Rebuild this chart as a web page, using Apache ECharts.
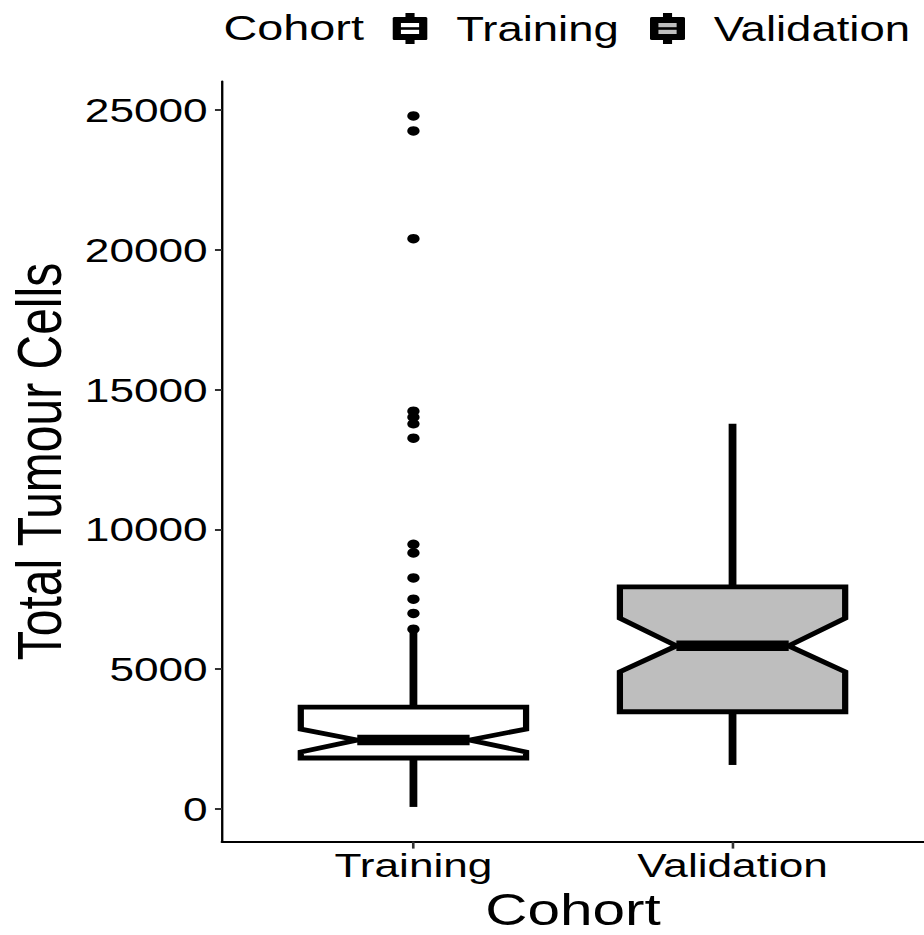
<!DOCTYPE html>
<html><head><meta charset="utf-8">
<script src="https://cdn.jsdelivr.net/npm/echarts@6/dist/echarts.min.js"></script>
<style>
html,body{margin:0;padding:0;background:#fff;overflow:hidden}
#wrap{width:924px;height:935px;overflow:hidden}
#chart{width:711px;height:935px;transform:scaleX(1.29958);transform-origin:0 0}
</style></head><body><div id="wrap"><div id="chart"></div></div>
<script>
// ---- data ----
const categories = ['Training', 'Validation'];
const statMin = [70, 1571];
const statQ1 = [1821, 3475];
const statNotchLow = [2036, 4904];
const statMedian = [2464, 5832];
const statNotchHigh = [2857, 6821];
const statQ3 = [3643, 7939];
const statMax = [6350, 13775];
const trainingOutliers = [24786, 24250, 20393, 14225, 14011, 13775, 13261, 9464, 9154, 8261, 7500, 6989, 6429];
const yTicks = [0, 5000, 10000, 15000, 20000, 25000];
const fills = ['#FFFFFF', '#BEBEBE'];
const legendTitle = 'Cohort';
const xTitle = 'Cohort';
const yTitle = 'Total Tumour Cells';

const FONT = '"Liberation Sans", Arial, Helvetica, sans-serif';

function iconFor(fill) {
  const svg = '<svg xmlns="http://www.w3.org/2000/svg" width="27" height="31" viewBox="0 0 27 31" preserveAspectRatio="none">' +
    '<rect x="10" y="0" width="7" height="5" fill="#000"/>' +
    '<rect x="10" y="26" width="7" height="5" fill="#000"/>' +
    '<rect x="0" y="4" width="27" height="23" rx="1.5" fill="#000"/>' +
    '<rect x="6.5" y="10" width="14" height="4.2" fill="' + fill + '"/>' +
    '<rect x="6.5" y="16.8" width="14" height="4.2" fill="' + fill + '"/>' +
    '</svg>';
  return 'image://data:image/svg+xml;charset=utf-8,' + encodeURIComponent(svg);
}

function renderBox(params, api) {
  const x = api.value(0);
  const mn = api.value(1), q1 = api.value(2), nl = api.value(3), md = api.value(4),
        nh = api.value(5), q3 = api.value(6), mx = api.value(7);
  const hw = 0.353, nw = 0.176;
  const P = (dx, v) => api.coord([x + dx, v]);
  const pts = [P(-hw, q3), P(hw, q3), P(hw, nh), P(nw, md), P(hw, nl), P(hw, q1),
               P(-hw, q1), P(-hw, nl), P(-nw, md), P(-hw, nh)];
  const c = P(0, md)[0];
  const fill = fills[params.seriesIndex];
  return {
    type: 'group',
    children: [
      { type: 'line', shape: { x1: c, y1: P(0, q3)[1], x2: c, y2: P(0, mx)[1] },
        style: { stroke: '#000', lineWidth: 6, lineCap: 'butt' } },
      { type: 'line', shape: { x1: c, y1: P(0, q1)[1], x2: c, y2: P(0, mn)[1] },
        style: { stroke: '#000', lineWidth: 6, lineCap: 'butt' } },
      { type: 'polygon', shape: { points: pts },
        style: { fill: fill, stroke: '#000', lineWidth: 4.8, lineJoin: 'miter' } },
      { type: 'line', shape: { x1: P(-nw, md)[0], y1: P(0, md)[1], x2: P(nw, md)[0], y2: P(0, md)[1] },
        style: { stroke: '#000', lineWidth: 10.5, lineCap: 'butt' } }
    ]
  };
}

const boxSeries = categories.map((name, i) => ({
  name: name,
  type: 'custom',
  renderItem: renderBox,
  encode: { x: 0, y: [1, 2, 3, 4, 5, 6, 7] },
  itemStyle: { color: fills[i] },
  data: [[i + 1, statMin[i], statQ1[i], statNotchLow[i], statMedian[i], statNotchHigh[i], statQ3[i], statMax[i]]],
  z: 2
}));

const chart = echarts.init(document.getElementById('chart'), null, { renderer: 'svg' });
chart.setOption({
  animation: false,
  backgroundColor: '#fff',
  textStyle: { fontFamily: FONT },
  title: {
    text: legendTitle, left: 172, top: 9, padding: 0,
    textStyle: { fontSize: 36, fontWeight: 'normal', color: '#000', fontFamily: FONT }
  },
  legend: {
    data: categories.map((n, i) => ({ name: n, icon: iconFor(fills[i]) })),
    left: 302, top: 11, padding: 0,
    itemWidth: 27, itemHeight: 31, itemGap: 24,
    selectedMode: false,
    textStyle: { fontSize: 35, color: '#000', fontFamily: FONT, padding: [0, 0, 0, 17] }
  },
  grid: { left: 170.8, right: 0, top: 81.4, bottom: 93.4, containLabel: false, outerBoundsMode: 'none' },
  xAxis: {
    type: 'value', min: 0.4, max: 2.6,
    name: xTitle, nameLocation: 'middle', nameGap: 40,
    nameTextStyle: { fontSize: 45, color: '#000', fontFamily: FONT },
    axisLine: { show: true, onZero: false, lineStyle: { color: '#000', width: 2.2 } },
    axisTick: { show: true, length: 7, customValues: [1, 2], lineStyle: { color: '#333', width: 2 } },
    axisLabel: { customValues: [1, 2], formatter: v => categories[Math.round(v) - 1] || '',
      fontSize: 34, color: '#000', margin: 6, fontFamily: FONT },
    splitLine: { show: false }
  },
  yAxis: {
    type: 'value', min: -1170, max: 26020,
    name: yTitle, nameLocation: 'middle', nameGap: 104,
    nameTextStyle: { fontSize: 48, color: '#000', fontFamily: FONT },
    axisLine: { show: true, onZero: false, lineStyle: { color: '#000', width: 1.8 } },
    axisTick: { show: true, length: 5.4, customValues: yTicks, lineStyle: { color: '#333', width: 2 } },
    axisLabel: { customValues: yTicks, formatter: v => String(Math.round(v)),
      fontSize: 34, color: '#000', margin: 11, fontFamily: FONT },
    splitLine: { show: false }
  },
  series: boxSeries.concat([{
    name: 'outliers',
    type: 'scatter',
    symbol: 'circle',
    symbolSize: 9.5,
    itemStyle: { color: '#000', opacity: 1 },
    data: trainingOutliers.map(v => [1, v]),
    z: 3
  }])
});
</script></body></html>
